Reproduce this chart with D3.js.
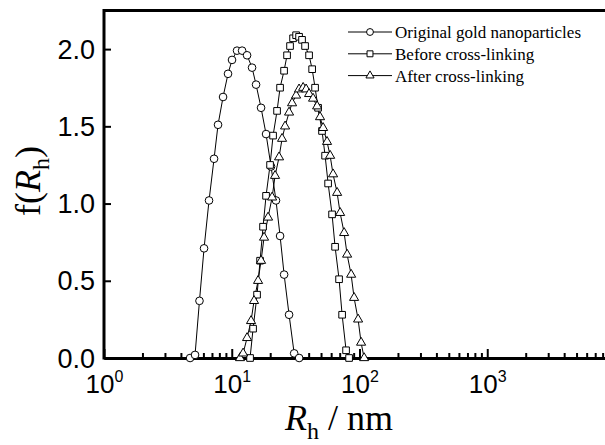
<!DOCTYPE html>
<html>
<head>
<meta charset="utf-8">
<script src="https://cdn.jsdelivr.net/npm/d3@7"></script>
<style>
  body { margin: 0; background: #fff; }
  svg { display: block; font-family: "Liberation Serif", "Times New Roman", serif; }
</style>
</head>
<body>
<div class="render"></div>
<script>
'use strict';

// Original gold nanoparticles (circles)
var origX = [4.72, 5.16, 5.59, 6.07, 6.64, 7.27, 7.81, 8.55, 9.35, 10.05, 11.0, 12.05, 13.18, 14.42, 15.5, 16.96, 18.56, 20.3, 22.2, 23.9, 25.7, 28.1, 30.8, 33.7];
var origY = [0.0, 0.02, 0.37, 0.71, 1.02, 1.29, 1.51, 1.69, 1.84, 1.93, 1.99, 1.99, 1.96, 1.88, 1.77, 1.62, 1.45, 1.24, 1.02, 0.79, 0.54, 0.28, 0.03, 0.0];

// Before cross-linking (squares)
var beforeX = [13.91, 14.69, 15.78, 16.66, 17.58, 18.56, 19.95, 21.06, 22.63, 23.89, 25.68, 27.1, 28.6, 30.2, 31.9, 33.65, 35.5, 37.5, 40.3, 42.6, 44.9, 47.4, 50.9, 53.8, 56.8, 61.0, 64.4, 69.2, 73.1, 78.5, 82.9];
var beforeY = [0.0, 0.19, 0.41, 0.63, 0.85, 1.05, 1.25, 1.44, 1.60, 1.75, 1.86, 1.96, 2.02, 2.07, 2.09, 2.08, 2.06, 2.02, 1.96, 1.87, 1.75, 1.62, 1.47, 1.31, 1.13, 0.93, 0.72, 0.51, 0.28, 0.05, 0.0];

// After cross-linking (triangles)
var afterX = [11.6, 12.27, 13.18, 14.16, 14.95, 16.07, 16.96, 17.9, 19.24, 20.7, 21.83, 23.46, 24.77, 26.15, 28.1, 29.66, 31.9, 33.65, 36.2, 38.2, 40.3, 43.3, 46.6, 49.1, 51.9, 55.7, 58.9, 62.1, 66.8, 70.5, 75.8, 80.0, 86.0, 90.7, 97.5, 102.9, 108.7];
var afterY = [0.0, 0.03, 0.13, 0.24, 0.37, 0.5, 0.63, 0.78, 0.91, 1.04, 1.18, 1.3, 1.42, 1.5, 1.59, 1.65, 1.7, 1.74, 1.75, 1.74, 1.71, 1.68, 1.63, 1.56, 1.49, 1.4, 1.31, 1.19, 1.07, 0.94, 0.81, 0.67, 0.54, 0.39, 0.25, 0.1, 0.0];

var seriesNames = ['Original gold nanoparticles', 'Before cross-linking', 'After cross-linking'];
var yTicks = [0, 0.5, 1.0, 1.5, 2.0];
var xDecadeExps = [0, 1, 2, 3];

function draw() {
   var w = 605;
   var h = 445;
   var left = 104, right = 615, top = 10.5, bottom = 358;

   var x = d3.scaleLog().domain([1, 1e4]).range([left, right]);
   var y = d3.scaleLinear().domain([0, 2.25]).range([bottom, top]);

   var svg = d3.select('.render').append('svg').attr('width', w).attr('height', h);

   // top frame line
   svg.append('line').attr('x1', left).attr('x2', right).attr('y1', top).attr('y2', top)
      .attr('stroke', '#000').attr('stroke-width', 3);

   // y axis
   var yAxis = d3.axisLeft(y).tickValues(yTicks).tickSizeInner(-7).tickSizeOuter(0)
      .tickPadding(9).tickFormat(d3.format('.1f'));
   var gy = svg.append('g').attr('transform', 'translate(' + left + ',0)').call(yAxis);
   gy.select('.domain').attr('stroke-width', 3).attr('d', 'M0,' + (bottom + 1.5) + 'V' + (top - 1.5));
   gy.selectAll('.tick line').attr('stroke-width', 2);
   gy.selectAll('.tick text').style('font-size', '27px').attr('fill', '#000').attr('dy', '0.34em');

   // x axis
   var decades = xDecadeExps.map(function (e) { return Math.pow(10, e); }).concat([1e4]);
   var xAxis = d3.axisBottom(x).tickValues(x.ticks()).tickSizeInner(-5).tickSizeOuter(0)
      .tickFormat(function () { return ''; });
   var gx = svg.append('g').attr('transform', 'translate(0,' + bottom + ')').call(xAxis);
   gx.select('.domain').attr('stroke-width', 3);
   gx.selectAll('.tick line').attr('stroke-width', 2)
      .attr('y2', function (d) { return decades.indexOf(d) >= 0 ? -9 : -5; });
   gx.selectAll('.tick text').remove();
   gx.selectAll('.tick').filter(function (d) { return xDecadeExps.indexOf(Math.round(Math.log10(d))) >= 0 && decades.indexOf(d) >= 0 && d < 1e4; })
      .append('text')
      .attr('y', 35).attr('text-anchor', 'middle').attr('fill', '#000')
      .style('font-size', '26px')
      .each(function (d) {
         var t = d3.select(this);
         t.append('tspan').text('10');
         t.append('tspan').attr('dy', -11).style('font-size', '16px').text(Math.round(Math.log10(d)));
      });

   // series
   var series = [
      { xs: origX, ys: origY, sym: d3.symbolCircle, size: 46 },
      { xs: beforeX, ys: beforeY, sym: d3.symbolSquare, size: 44 },
      { xs: afterX, ys: afterY, sym: d3.symbolTriangle, size: 36 }
   ];
   var line = d3.line().x(function (d) { return x(d[0]); }).y(function (d) { return y(d[1]); });

   series.forEach(function (s) {
      var pts = s.xs.map(function (v, i) { return [v, s.ys[i]]; });
      svg.append('path').datum(pts).attr('d', line)
         .attr('fill', 'none').attr('stroke', '#000').attr('stroke-width', 1);
   });
   series.forEach(function (s) {
      var pts = s.xs.map(function (v, i) { return [v, s.ys[i]]; });
      var sym = d3.symbol().type(s.sym).size(s.size);
      svg.append('g').selectAll('path').data(pts).enter().append('path')
         .attr('d', sym)
         .attr('transform', function (d) { return 'translate(' + x(d[0]) + ',' + y(d[1]) + ')'; })
         .attr('fill', '#fff').attr('stroke', '#000').attr('stroke-width', 1);
   });

   // legend
   var lg = svg.append('g');
   seriesNames.forEach(function (name, i) {
      var ly = 32 + i * 21.8;
      lg.append('line').attr('x1', 348).attr('x2', 392).attr('y1', ly).attr('y2', ly)
         .attr('stroke', '#000').attr('stroke-width', 1);
      lg.append('path').attr('d', d3.symbol().type(series[i].sym).size(series[i].size * 0.8))
         .attr('transform', 'translate(370,' + ly + ')')
         .attr('fill', '#fff').attr('stroke', '#000').attr('stroke-width', 1);
      lg.append('text').attr('x', 395).attr('y', ly + 6).style('font-size', '17px').text(name);
   });

   // axis titles
   var yt = svg.append('text').attr('transform', 'translate(40,181)rotate(-90)')
      .attr('text-anchor', 'middle').style('font-size', '36px');
   yt.append('tspan').text('f(');
   yt.append('tspan').style('font-style', 'italic').text('R');
   yt.append('tspan').attr('dy', 9).style('font-size', '24px').text('h');
   yt.append('tspan').attr('dy', -9).text(')');

   var xt = svg.append('text').attr('x', 339).attr('y', 430)
      .attr('text-anchor', 'middle').style('font-size', '36px');
   xt.append('tspan').style('font-style', 'italic').text('R');
   xt.append('tspan').attr('dy', 9).style('font-size', '24px').text('h');
   xt.append('tspan').attr('dy', -9).text(' / nm');
}

draw();
</script>
</body>
</html>
